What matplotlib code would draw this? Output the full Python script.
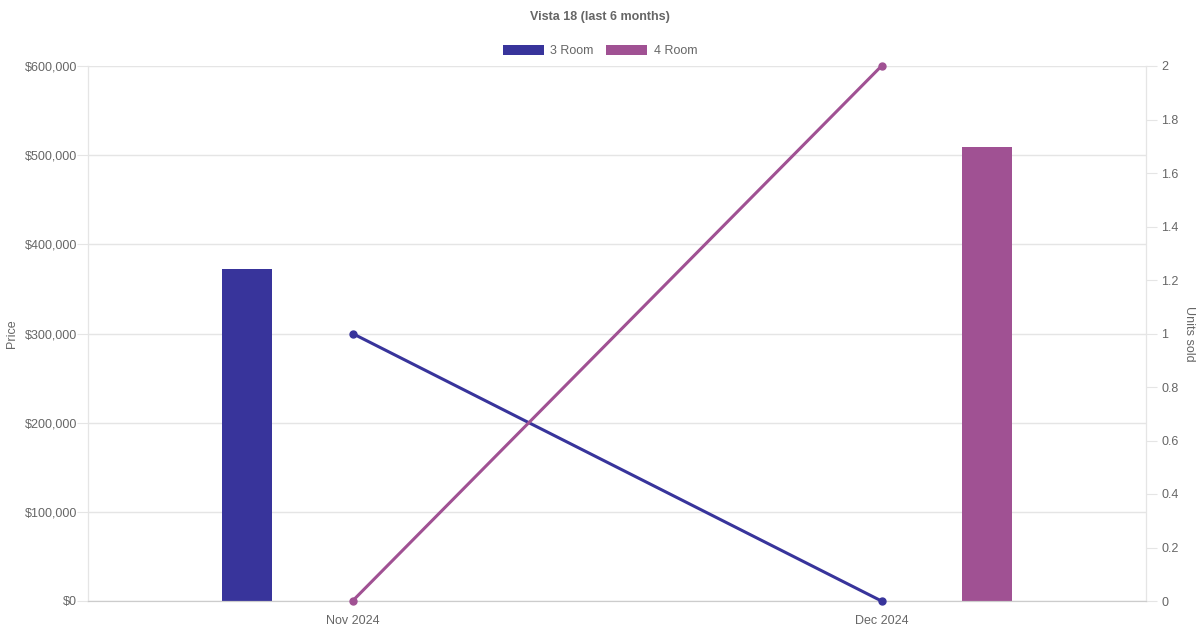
import numpy as np
import matplotlib
matplotlib.use("Agg")
import matplotlib.pyplot as plt
from matplotlib.patches import Patch

plt.rcParams['font.family'] = ['Liberation Sans', 'DejaVu Sans']

# data
months = ["Nov 2024", "Dec 2024"]
series = ["3 Room", "4 Room"]
price_3room = [372000, np.nan]
price_4room = [np.nan, 509000]
units_3room = [1, 0]
units_4room = [0, 2]
price_ticks = [0, 100000, 200000, 300000, 400000, 500000, 600000]
unit_ticks = [0, 0.2, 0.4, 0.6, 0.8, 1, 1.2, 1.4, 1.6, 1.8, 2]

c3 = "#38349b"
c4 = "#a05193"
grid_c = "#e5e5e5"
txt_c = "#666666"

fig = plt.figure(figsize=(12, 6.3), dpi=100)
ax = fig.add_axes([88/1200, 1-601/630, (1146-88)/1200, (601-66)/630])
ax2 = ax.twinx()

x = np.arange(len(months))
ax.bar(x - 0.2, price_3room, width=0.095, color=c3, zorder=2)
ax.bar(x + 0.2, price_4room, width=0.095, color=c4, zorder=2)

ax2.plot(x, units_3room, color=c3, lw=2.2, marker='o', ms=5, zorder=3, clip_on=False)
ax2.plot(x, units_4room, color=c4, lw=2.2, marker='o', ms=5, zorder=3, clip_on=False)

ax.set_xlim(-0.5, 1.5)
ax.set_ylim(0, 600000)
ax2.set_ylim(0, 2)
ax.set_xticks(x)
ax.set_xticklabels(months)
ax.set_yticks(price_ticks)
ax.set_yticklabels(["${:,}".format(v) for v in price_ticks])
ax2.set_yticks(unit_ticks)
ax2.set_yticklabels(["{:g}".format(v) for v in unit_ticks])

ax.grid(axis='y', color=grid_c, lw=1, zorder=0)
ax.set_axisbelow(True)
for a in (ax, ax2):
    for s in a.spines.values():
        s.set_color(grid_c)
    a.spines['bottom'].set_color("#cccccc")
    a.spines['top'].set_visible(False)
ax.tick_params(axis='y', colors=txt_c, labelsize=9, length=8, color=grid_c, pad=0)
ax2.tick_params(axis='y', colors=txt_c, labelsize=9, length=8, color=grid_c, pad=3)
ax.tick_params(axis='x', colors=txt_c, labelsize=9, length=0, pad=10)

ax.set_ylabel("Price", color=txt_c, fontsize=9, labelpad=5)
ax2.set_ylabel("Units sold", color=txt_c, fontsize=9, rotation=270, labelpad=12)

fig.text(0.5, 1-17/630, "Vista 18 (last 6 months)", ha='center', va='center',
         fontsize=9, fontweight='bold', color=txt_c)

handles = [Patch(facecolor=c3), Patch(facecolor=c4)]
fig.legend(handles, series, loc='center', bbox_to_anchor=(0.5, 1-51/630), ncol=2,
           frameon=False, fontsize=9, handlelength=3.3, handleheight=0.9,
           handletextpad=0.5, columnspacing=1.0, labelcolor=txt_c)

fig.savefig("out.png", dpi=100)
